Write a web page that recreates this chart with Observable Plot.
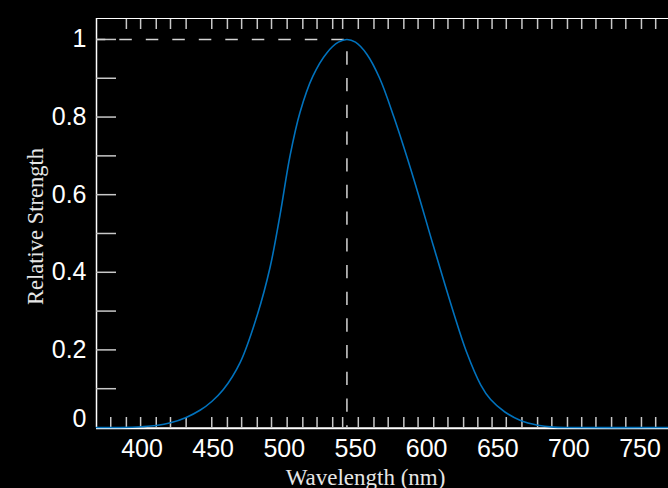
<!DOCTYPE html>
<html>
<head>
<meta charset="utf-8">
<script src="https://cdn.jsdelivr.net/npm/d3@7"></script>
<script src="https://cdn.jsdelivr.net/npm/@observablehq/plot@0.6"></script>
<style>
  html, body { margin: 0; padding: 0; background: #000; }
  #chart { width: 668px; height: 488px; overflow: hidden; }
</style>
</head>
<body>
<div id="chart"></div>
<script>
// Wavelength (nm) and relative strength
const wavelengths = [368, 385, 400, 410, 420, 431, 441, 449, 457, 469, 481, 490, 497, 504, 511, 520, 530, 538, 544, 550, 558, 567, 577, 591, 605, 619, 628, 638, 645, 655, 666, 678, 689, 700, 770];
const strength    = [0, 0, 0.002, 0.005, 0.012, 0.026, 0.045, 0.067, 0.097, 0.168, 0.29, 0.413, 0.548, 0.7, 0.812, 0.905, 0.966, 0.993, 1.0, 0.993, 0.962, 0.9, 0.8, 0.64, 0.465, 0.295, 0.195, 0.11, 0.072, 0.04, 0.018, 0.006, 0.001, 0, 0];

// Axis domains and ticks
const xDomain = [368, 770];
const yDomain = [0, 1.054];
const xTickLabels = [400, 450, 500, 550, 600, 650, 700, 750];
const xMinorTicks = [378, 389, 399, 410, 420, 431, 449, 460, 470, 481, 491, 502, 513, 523, 534, 541, 552, 563, 573, 584, 594, 605, 615, 626, 636, 646, 656, 667, 678, 688, 699, 709, 719, 730, 740, 751, 761];
const xTopTicks = xMinorTicks.slice(1);
const yMinorTicks = [0.1, 0.2, 0.3, 0.4, 0.5, 0.6, 0.7, 0.8, 0.9, 1];
const yTickLabels = [0.2, 0.4, 0.6, 0.8, 1];
const yZeroLabel = [0];
const xTitle = ["Wavelength (nm)"];
const yTitle = ["Relative Strength"];

const table = wavelengths.map((w, i) => ({w, v: strength[i]}));
const peakIndex = d3.maxIndex(strength);
const peak = [{w: wavelengths[peakIndex], v: strength[peakIndex]}];

const tickColor = "#c8c8c8";
const dashColor = "#d4d4d4";
const sans = "'Liberation Sans', Arial, Helvetica, sans-serif";
const serif = "'Liberation Serif', 'Times New Roman', serif";

const chart = Plot.plot({
  width: 668,
  height: 488,
  marginTop: 18,
  marginLeft: 96,
  marginRight: 0,
  marginBottom: 61,
  style: {background: "#000", color: "#fff", fontFamily: sans, fontSize: "25px", overflow: "hidden"},
  x: {domain: xDomain, axis: null},
  y: {domain: yDomain, axis: null},
  marks: [
    // frame lines
    Plot.ruleY([yDomain[1]], {stroke: "#fff", strokeWidth: 1.2}),
    Plot.ruleX([xDomain[0]], {stroke: "#fff", strokeWidth: 1.5}),
    Plot.ruleY([yDomain[0]], {stroke: "#fff", strokeWidth: 2, dy: 0.8}),
    // inward ticks
    Plot.axisX(xMinorTicks, {anchor: "bottom", tickSize: -10, tickFormat: () => "", stroke: tickColor, strokeWidth: 1.5, label: null}),
    Plot.axisX(xTopTicks, {anchor: "top", tickSize: -10, tickFormat: () => "", stroke: tickColor, strokeWidth: 1.5, label: null}),
    Plot.axisY(yMinorTicks, {anchor: "left", tickSize: -20, tickFormat: () => "", stroke: tickColor, strokeWidth: 1.5, label: null}),
    // tick labels
    Plot.axisX(xTickLabels, {anchor: "bottom", tickSize: 0, tickPadding: 12, fontSize: 25, fill: "#fff", label: null}),
    Plot.axisY(yTickLabels, {anchor: "left", tickSize: 0, tickPadding: 10, fontSize: 25, fill: "#fff", label: null, tickFormat: d => String(d)}),
    Plot.text(yZeroLabel, {x: xDomain[0], y: d => d, text: d => String(d), textAnchor: "end", dx: -10, dy: -9, fontSize: 25, fill: "#fff"}),
    // peak guides
    Plot.ruleY(peak, {y: "v", x1: xDomain[0], x2: "w", stroke: dashColor, strokeWidth: 1.5, strokeDasharray: "12.5,14", strokeDashoffset: 3.2}),
    Plot.ruleX(peak, {x: "w", y1: "v", y2: yDomain[0], stroke: dashColor, strokeWidth: 1.5, strokeDasharray: "13.3,13.4", strokeDashoffset: 14.3}),
    // curve
    Plot.line(table, {x: "w", y: "v", stroke: "#0072bd", strokeWidth: 1.6, curve: "catmull-rom"}),
    // axis titles
    Plot.text(xTitle, {frameAnchor: "bottom", text: d => d, textAnchor: "middle", dx: -17, dy: 57, lineAnchor: "bottom", fontFamily: serif, fontSize: 23, fill: "#e6e6e6"}),
    Plot.text(yTitle, {frameAnchor: "left", text: d => d, textAnchor: "middle", rotate: -90, dx: -61, dy: 3.5, lineAnchor: "middle", fontFamily: serif, fontSize: 22.5, fill: "#e6e6e6"})
  ]
});
document.getElementById("chart").appendChild(chart);
</script>
</body>
</html>
